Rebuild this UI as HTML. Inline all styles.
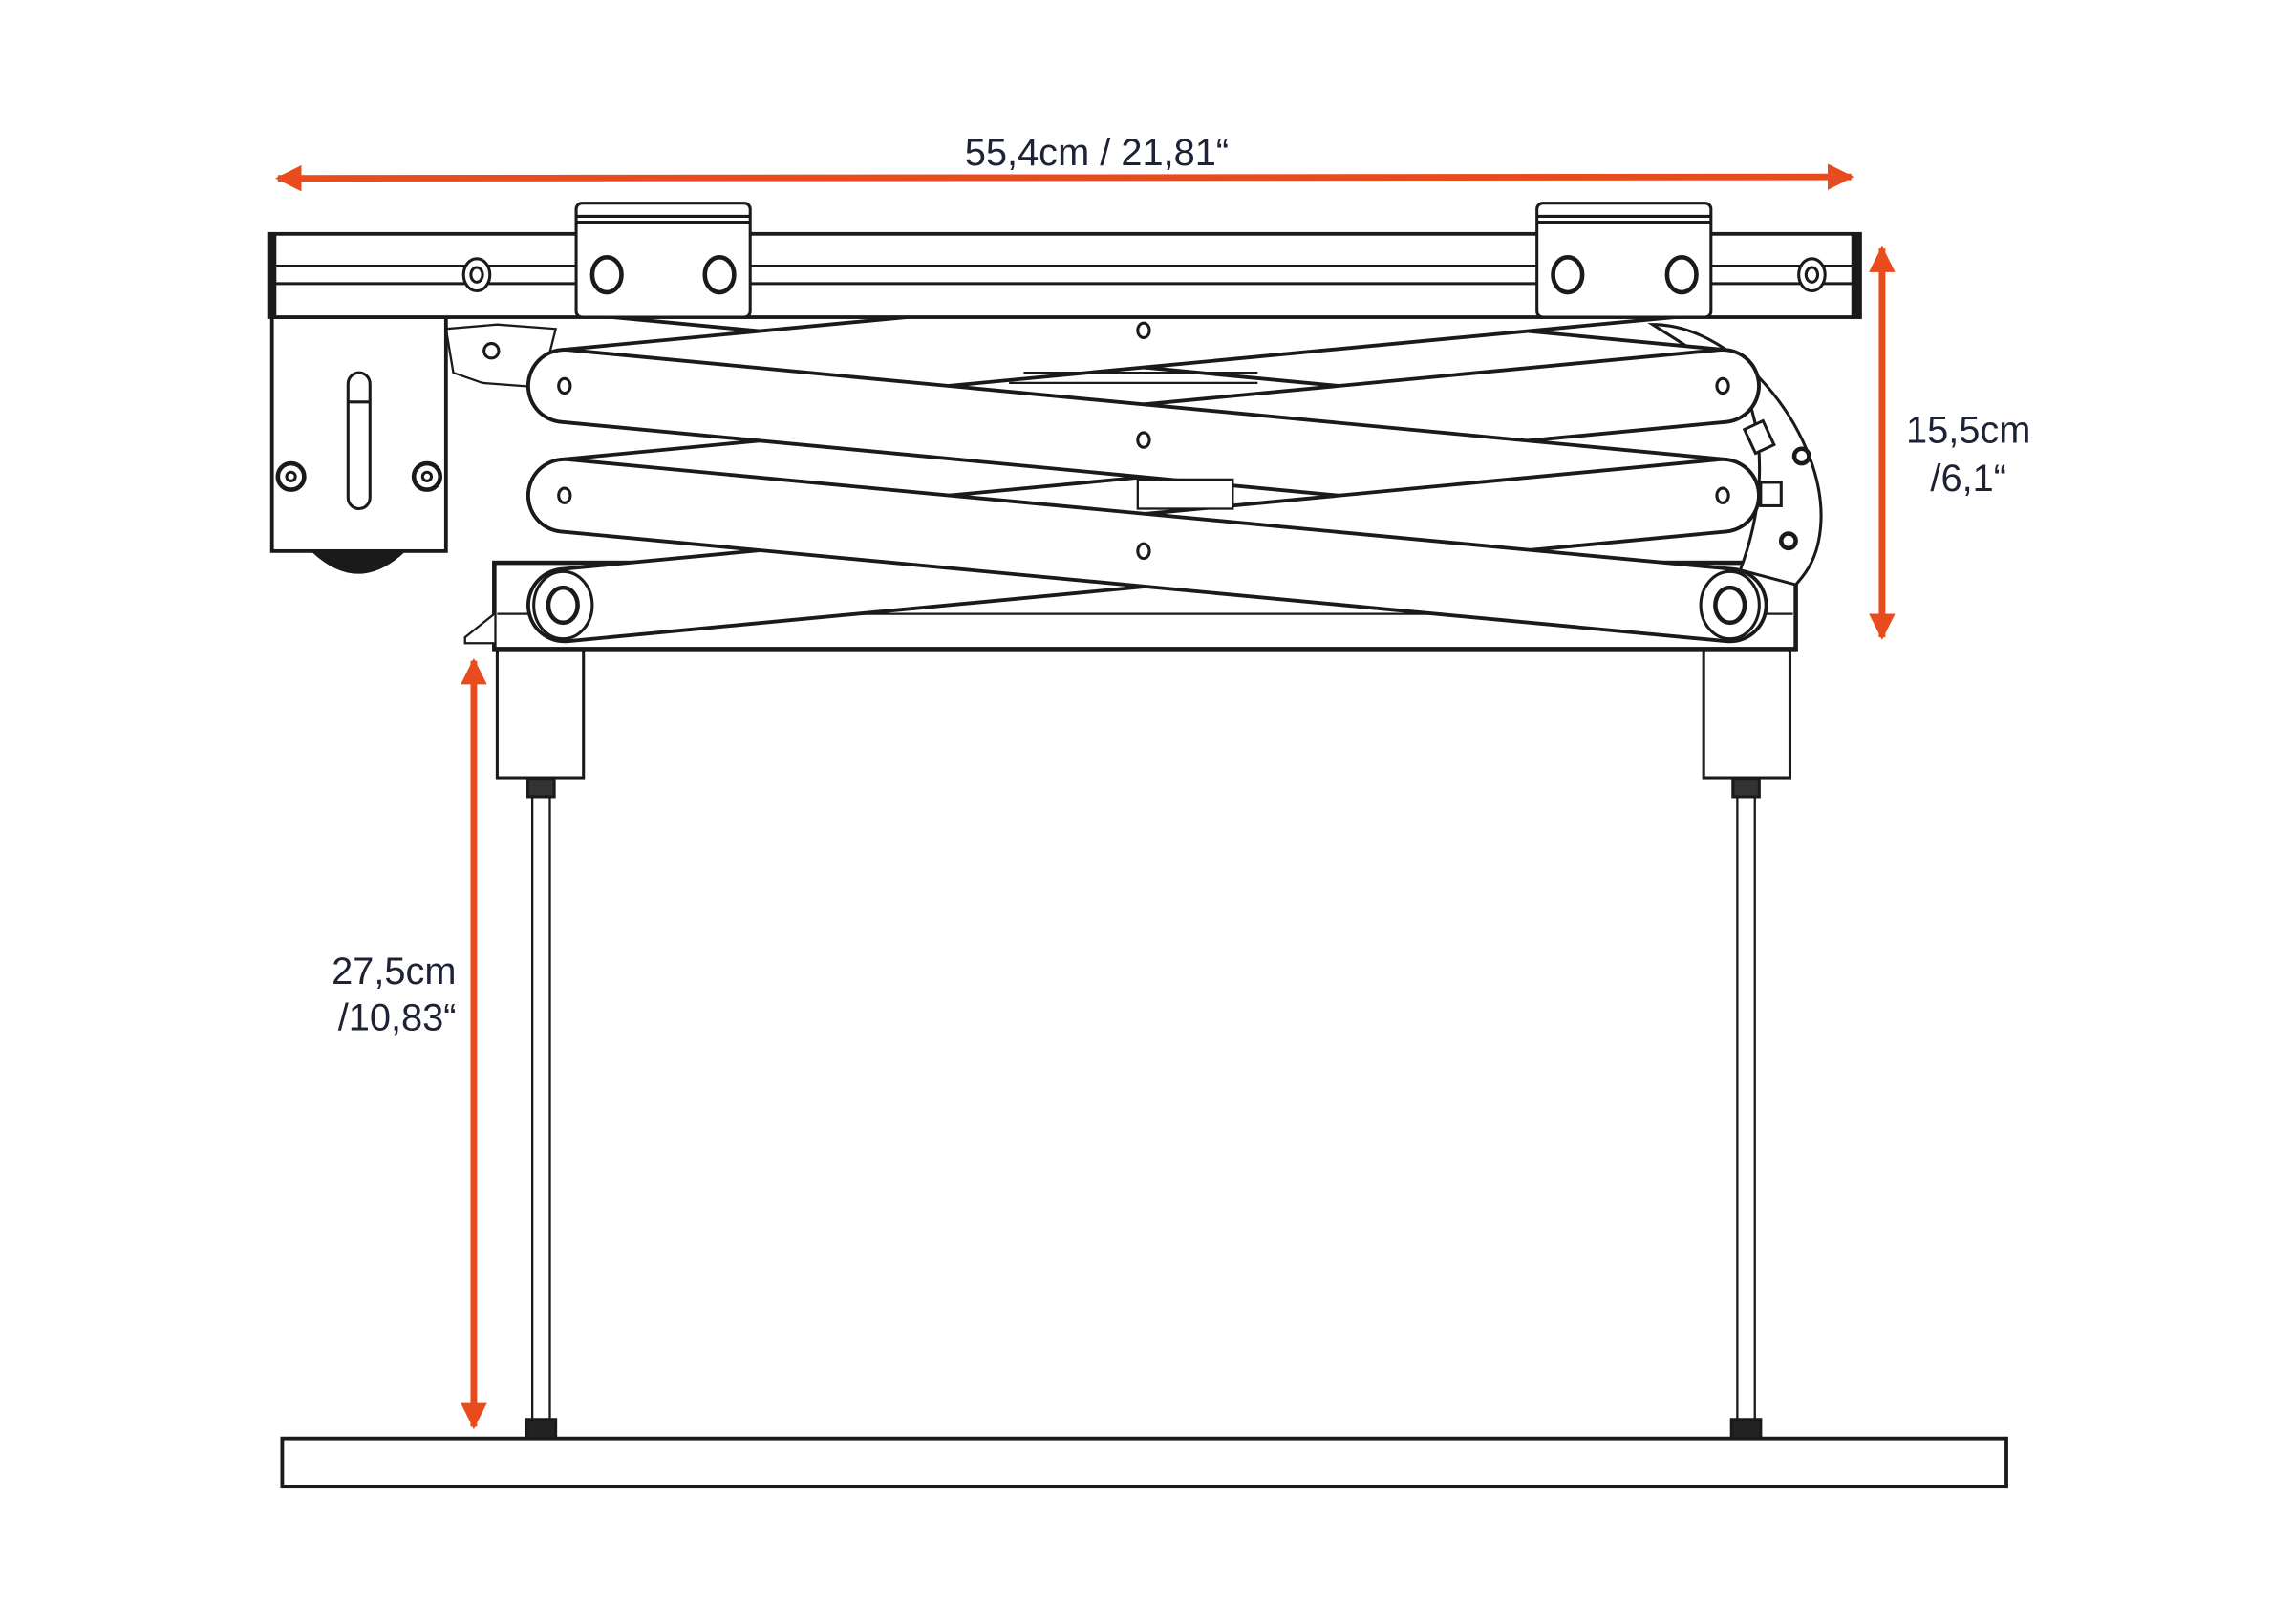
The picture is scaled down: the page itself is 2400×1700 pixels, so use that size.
<!DOCTYPE html>
<html><head><meta charset="utf-8"><style>
html,body{margin:0;padding:0;background:#fff;}
svg{display:block;}
text{font-family:"Liberation Sans",sans-serif;fill:#1e2235;font-size:26px;}
</style></head><body>
<svg width="2400" height="1700" viewBox="0 0 1568 1111" preserveAspectRatio="none" xmlns="http://www.w3.org/2000/svg">
<defs>
<marker id="ah" viewBox="0 0 10 10" refX="9" refY="5" markerWidth="4" markerHeight="4" orient="auto-start-reverse" markerUnits="strokeWidth">
<path d="M0,0 L10,5 L0,10 z" fill="#e84c1e"/></marker>
</defs>
<rect width="1568" height="1111" fill="#fff"/>

<!-- dimension arrows -->
<line x1="190" y1="122" x2="1266" y2="121" stroke="#e84c1e" stroke-width="4.5" marker-start="url(#ah)" marker-end="url(#ah)"/>
<text x="750" y="113" text-anchor="middle">55,4cm / 21,81“</text>
<line x1="1287" y1="170" x2="1287" y2="436" stroke="#e84c1e" stroke-width="4.5" marker-start="url(#ah)" marker-end="url(#ah)"/>
<text x="1346" y="303" text-anchor="middle">15,5cm</text>
<text x="1346" y="336" text-anchor="middle">/6,1“</text>
<line x1="324" y1="452" x2="324" y2="976" stroke="#e84c1e" stroke-width="4.5" marker-start="url(#ah)" marker-end="url(#ah)"/>
<text x="312" y="673" text-anchor="end">27,5cm</text>
<text x="312" y="705" text-anchor="end">/10,83“</text>

<g stroke="#1a1a1a" fill="#fff" stroke-width="2">
<!-- legs -->
<rect x="340" y="444" width="59" height="88"/>
<rect x="1165" y="444" width="59" height="88"/>
<rect x="364" y="545" width="12" height="426" stroke-width="1.5"/>
<rect x="1188" y="545" width="12" height="426" stroke-width="1.5"/>
<rect x="361" y="533" width="18" height="12" fill="#333"/>
<rect x="1185" y="533" width="18" height="12" fill="#333"/>
<rect x="360" y="971" width="20" height="13" fill="#222"/>
<rect x="1184" y="971" width="20" height="13" fill="#222"/>
<!-- base plate -->
<rect x="193" y="984" width="1179" height="33" stroke-width="2.5"/>

<!-- bottom frame -->
<rect x="338" y="385" width="890" height="59" stroke-width="3"/>
<line x1="340" y1="420" x2="1226" y2="420" stroke-width="1.5"/>
<path d="M338 420 L318 436 L318 440 L338 440" stroke-width="1.5"/>

<!-- right chain -->
<path d="M1130 222 C1190 222 1250 300 1245 360 C1243 385 1232 395 1228 400 L1190 390 C1205 350 1210 300 1190 260 Z" stroke-width="2"/>
<rect x="1196" y="290" width="14" height="18" transform="rotate(-25 1203 299)"/>
<rect x="1204" y="330" width="14" height="16"/>
<circle cx="1232" cy="312" r="5" stroke-width="3"/>
<circle cx="1223" cy="370" r="5" stroke-width="3"/>
<!-- left link -->
<path d="M305 225 L340 222 L380 225 L370 265 L330 262 L310 255 Z" stroke-width="1.5"/>
<circle cx="336" cy="240" r="5" stroke-width="2"/>
</g>

<!-- scissor bars -->
<g stroke-linecap="round">
<line x1="386" y1="189" x2="1178" y2="264" stroke="#1a1a1a" stroke-width="52"/>
<line x1="386" y1="189" x2="1178" y2="264" stroke="#fff" stroke-width="47"/>
<line x1="386" y1="264" x2="1178" y2="189" stroke="#1a1a1a" stroke-width="52"/>
<line x1="386" y1="264" x2="1178" y2="189" stroke="#fff" stroke-width="47"/>
<line x1="386" y1="339" x2="1178" y2="264" stroke="#1a1a1a" stroke-width="52"/>
<line x1="386" y1="339" x2="1178" y2="264" stroke="#fff" stroke-width="47"/>
<line x1="386" y1="264" x2="1178" y2="339" stroke="#1a1a1a" stroke-width="52"/>
<line x1="386" y1="264" x2="1178" y2="339" stroke="#fff" stroke-width="47"/>
<line x1="386" y1="414" x2="1178" y2="339" stroke="#1a1a1a" stroke-width="52"/>
<line x1="386" y1="414" x2="1178" y2="339" stroke="#fff" stroke-width="47"/>
<line x1="386" y1="339" x2="1183" y2="414" stroke="#1a1a1a" stroke-width="52"/>
<line x1="386" y1="339" x2="1183" y2="414" stroke="#fff" stroke-width="47"/>
</g>
<g stroke="#1a1a1a" fill="#fff" stroke-width="2">
<ellipse cx="386" cy="264" rx="4" ry="5"/>
<ellipse cx="1178" cy="264" rx="4" ry="5"/>
<ellipse cx="386" cy="339" rx="4" ry="5"/>
<ellipse cx="1178" cy="339" rx="4" ry="5"/>
<ellipse cx="782" cy="226" rx="4" ry="5"/>
<ellipse cx="782" cy="301" rx="4" ry="5"/>
<ellipse cx="782" cy="377" rx="4" ry="5"/>
<rect x="778" y="328" width="65" height="20" stroke-width="1.5"/>
<path d="M690 262 L860 262 M700 255 L860 255" stroke-width="1.5"/>
<!-- big pivots -->
<ellipse cx="385" cy="414" rx="20" ry="23"/>
<ellipse cx="385" cy="414" rx="10" ry="12" stroke-width="3"/>
<ellipse cx="1183" cy="414" rx="20" ry="23"/>
<ellipse cx="1183" cy="414" rx="10" ry="12" stroke-width="3"/>

<!-- motor box -->
<rect x="186" y="217" width="119" height="160" stroke-width="2.5"/>
<path d="M214 377 Q245 406 276 377 Z" fill="#1a1a1a"/>
<rect x="238" y="255" width="15" height="93" rx="7.5"/>
<line x1="238" y1="275" x2="253" y2="275"/>
<circle cx="199" cy="326" r="9" stroke-width="3"/>
<circle cx="199" cy="326" r="3"/>
<circle cx="292" cy="326" r="9" stroke-width="3"/>
<circle cx="292" cy="326" r="3"/>

<!-- rail -->
<rect x="184" y="160" width="1088" height="57" stroke-width="2.5"/>
<rect x="184" y="160" width="4" height="57" fill="#1a1a1a"/>
<rect x="1267" y="160" width="5" height="57" fill="#1a1a1a"/>
<line x1="188" y1="182" x2="1267" y2="182" stroke-width="2"/>
<line x1="188" y1="194" x2="1267" y2="194" stroke-width="2"/>
<ellipse cx="326" cy="188" rx="9" ry="11" stroke-width="2"/>
<ellipse cx="326" cy="188" rx="4" ry="5"/>
<ellipse cx="1239" cy="188" rx="9" ry="11" stroke-width="2"/>
<ellipse cx="1239" cy="188" rx="4" ry="5"/>

<!-- brackets -->
<rect x="394" y="139" width="119" height="78" rx="4" stroke-width="2"/>
<line x1="394" y1="148" x2="513" y2="148"/>
<line x1="394" y1="152" x2="513" y2="152"/>
<ellipse cx="415" cy="188" rx="10" ry="12" stroke-width="3"/>
<ellipse cx="492" cy="188" rx="10" ry="12" stroke-width="3"/>
<rect x="1051" y="139" width="119" height="78" rx="4" stroke-width="2"/>
<line x1="1051" y1="148" x2="1170" y2="148"/>
<line x1="1051" y1="152" x2="1170" y2="152"/>
<ellipse cx="1072" cy="188" rx="10" ry="12" stroke-width="3"/>
<ellipse cx="1150" cy="188" rx="10" ry="12" stroke-width="3"/>
</g>
</svg>
</body></html>
